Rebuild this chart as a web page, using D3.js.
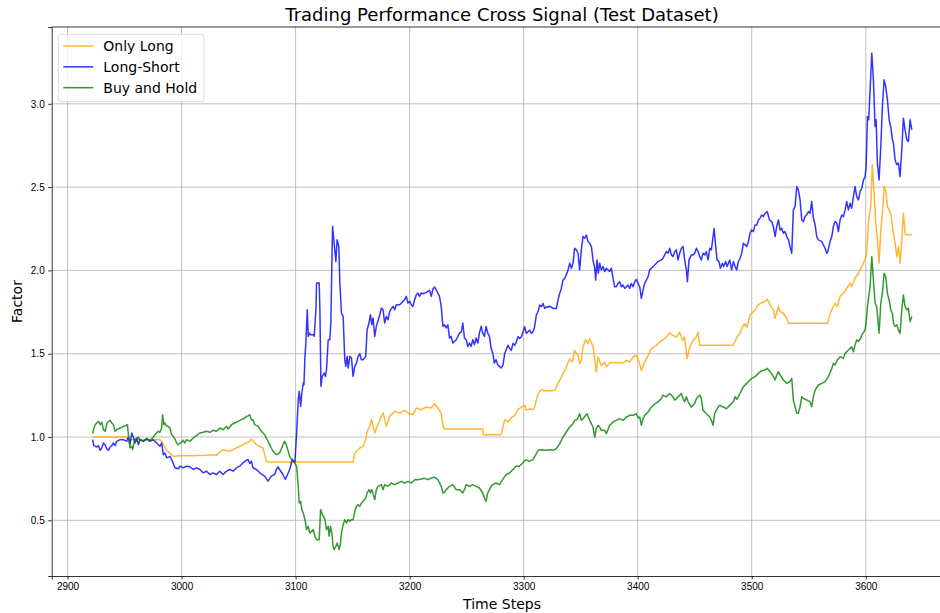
<!DOCTYPE html>
<html lang="en">
<head>
<meta charset="UTF-8">
<title>Trading Performance Cross Signal</title>
<script src="https://d3js.org/d3.v7.min.js"></script>
<style>
  body { margin: 0; background: #fff; }
  svg { display: block; font-family: "DejaVu Sans", sans-serif; }
  .grid line { stroke: #b0b0b0; stroke-width: 0.8; }
  .axis path, .axis line { stroke: #000; stroke-width: 0.8; }
  .axis text { font-size: 10px; fill: #000; }
</style>
</head>
<body>
<svg width="940" height="613"></svg>
<script>
// values: [time step, factor]
var onlyLong = [[2922,1.0],[2952,1.0],[2953.4,0.984],[2981,0.984],[2982.5,0.974],[2986.9,0.92],[2992.7,0.885],[3000,0.888],[3010,0.888],[3020,0.89],[3027.7,0.894],[3030.6,0.89],[3033.5,0.91],[3036.4,0.924],[3042.3,0.914],[3048.1,0.934],[3053.9,0.954],[3059.8,0.974],[3061.2,0.988],[3065.6,0.954],[3071.4,0.934],[3074.3,0.855],[3076,0.85],[3150.4,0.85],[3151.9,0.904],[3156.3,0.934],[3159.2,0.944],[3161.5,0.984],[3162.7,1.034],[3165,1.064],[3166.5,1.104],[3169.4,1.024],[3173.8,1.104],[3176.7,1.144],[3179.6,1.064],[3182.5,1.124],[3186.9,1.154],[3191.3,1.144],[3195.6,1.16],[3198.5,1.144],[3202.9,1.134],[3205.8,1.174],[3210.2,1.164],[3214.6,1.18],[3218.9,1.174],[3221.9,1.2],[3224.8,1.174],[3227.7,1.144],[3229.2,1.064],[3230.6,1.048],[3264.1,1.048],[3264.7,1.014],[3280.2,1.014],[3281.9,1.06],[3283.3,1.104],[3286.3,1.09],[3289.2,1.116],[3292.1,1.13],[3295,1.164],[3298,1.18],[3300.9,1.19],[3302.3,1.16],[3305.3,1.17],[3308.2,1.164],[3309.6,1.18],[3312.6,1.26],[3315.5,1.285],[3318.4,1.277],[3322.8,1.277],[3327.2,1.28],[3330.1,1.32],[3334.5,1.38],[3337.4,1.42],[3340.4,1.47],[3342.7,1.45],[3344.7,1.52],[3347.7,1.49],[3349.1,1.44],[3350.6,1.46],[3352,1.54],[3354.4,1.585],[3356.4,1.56],[3357.9,1.59],[3360.8,1.545],[3362.3,1.46],[3363.7,1.39],[3365.2,1.48],[3368.1,1.43],[3371.1,1.45],[3372.5,1.42],[3375.4,1.445],[3381.3,1.445],[3387.1,1.445],[3390.1,1.46],[3393,1.45],[3395.9,1.48],[3398.8,1.49],[3401.2,1.45],[3403.2,1.40],[3406.1,1.45],[3409.1,1.49],[3412,1.53],[3416.4,1.55],[3419.3,1.57],[3422.2,1.585],[3425.1,1.60],[3428.1,1.625],[3431,1.61],[3433.9,1.60],[3436.8,1.63],[3439.2,1.58],[3441.2,1.60],[3443.3,1.47],[3445.6,1.54],[3448.5,1.58],[3451.5,1.60],[3452.9,1.63],[3454.4,1.55],[3483.6,1.55],[3485.1,1.57],[3487.1,1.60],[3489.5,1.62],[3491.8,1.66],[3493.9,1.68],[3495.9,1.66],[3498.5,1.733],[3500,1.743],[3502.9,1.763],[3505.8,1.793],[3508.8,1.807],[3511.7,1.813],[3513.7,1.827],[3516.1,1.793],[3519,1.763],[3520.5,1.713],[3523.4,1.783],[3524.9,1.753],[3527.8,1.743],[3530.7,1.713],[3532.2,1.683],[3566.7,1.683],[3567.8,1.723],[3570.2,1.763],[3573.1,1.803],[3575.1,1.783],[3577.5,1.843],[3580.4,1.863],[3583.3,1.893],[3586.3,1.923],[3587.7,1.903],[3590.6,1.953],[3593.6,1.983],[3596.5,2.023],[3598.5,2.053],[3600.3,2.083],[3601.5,2.183],[3602.6,2.303],[3604.4,2.383],[3605.8,2.634],[3607.3,2.463],[3608.8,2.283],[3610.2,2.183],[3611.7,2.043],[3613.2,2.243],[3614.6,2.343],[3616.1,2.503],[3617.5,2.483],[3619,2.383],[3621.9,2.343],[3624.3,2.223],[3625.7,2.163],[3627.2,2.083],[3628.7,2.143],[3630.1,2.043],[3631.6,2.183],[3633,2.343],[3634.5,2.223],[3636,2.213],[3640.4,2.213]];

var longShort = [[2922,0.984],[2923,0.948],[2925.7,0.94],[2927.1,0.948],[2928.6,0.92],[2930,0.934],[2931.5,0.964],[2932.9,0.954],[2934.4,0.928],[2935.9,0.92],[2937.3,0.94],[2938.8,0.948],[2940.2,0.964],[2941.7,0.948],[2943.1,0.974],[2946.1,0.984],[2949,0.984],[2951.9,0.974],[2953.4,1.0],[2954.8,0.954],[2956.3,1.024],[2957.7,1.0],[2959.2,0.964],[2960.6,0.994],[2962.1,0.954],[2963.6,0.984],[2966.5,0.974],[2969.4,0.988],[2972.3,0.974],[2975.2,0.984],[2978.1,0.964],[2981,0.944],[2982.5,0.964],[2984,0.894],[2985.4,0.904],[2986.9,0.875],[2989.8,0.884],[2991.3,0.865],[2994.2,0.815],[2997.1,0.809],[2998.5,0.825],[3001.5,0.815],[3004.4,0.825],[3007.3,0.821],[3010.2,0.805],[3013.1,0.815],[3016,0.805],[3018.9,0.785],[3021.9,0.795],[3024.8,0.775],[3027.7,0.785],[3030.6,0.775],[3033.5,0.795],[3036.4,0.775],[3039.4,0.795],[3042.3,0.805],[3045.2,0.795],[3048.1,0.815],[3051,0.825],[3053.9,0.845],[3056.9,0.861],[3058.3,0.865],[3059.8,0.841],[3061.2,0.855],[3062.7,0.815],[3065.6,0.805],[3068.5,0.785],[3072.9,0.765],[3075.8,0.735],[3078.7,0.765],[3081.6,0.775],[3083.1,0.805],[3084.5,0.821],[3086,0.805],[3088.9,0.775],[3091,0.745],[3094.8,0.805],[3097.1,0.865],[3099.4,0.85],[3100.9,1.024],[3102.3,1.224],[3103.2,1.274],[3104.4,1.184],[3105.5,1.264],[3106.7,1.324],[3107.3,1.314],[3108.2,1.484],[3109,1.564],[3110.2,1.764],[3111.1,1.604],[3112,1.624],[3113.1,1.614],[3115.5,1.614],[3116.3,1.604],[3117.8,1.764],[3118.4,1.924],[3120.7,1.924],[3121.3,1.764],[3122.2,1.304],[3123.3,1.364],[3125.1,1.384],[3126.2,1.364],[3127.1,1.404],[3128.6,1.584],[3130,1.584],[3130.9,1.684],[3132.4,2.264],[3133.8,2.164],[3135.3,2.054],[3136.4,2.184],[3137.9,2.144],[3138.8,1.924],[3140.2,1.744],[3141.7,1.724],[3143.1,1.464],[3144,1.424],[3145.2,1.484],[3146.1,1.414],[3147.5,1.484],[3149,1.474],[3150.4,1.364],[3151.9,1.424],[3153.4,1.444],[3154.8,1.484],[3156.3,1.5],[3157.7,1.464],[3159.2,1.464],[3161.5,1.484],[3162.7,1.644],[3164.4,1.684],[3165.6,1.734],[3166.8,1.674],[3167.9,1.714],[3169.4,1.604],[3170.8,1.664],[3173.8,1.734],[3175.2,1.774],[3176.7,1.764],[3178.1,1.684],[3179.6,1.724],[3181,1.704],[3182.5,1.754],[3185.4,1.784],[3186.9,1.764],[3188.3,1.794],[3191.3,1.794],[3194.2,1.814],[3195.6,1.824],[3197.1,1.844],[3198.5,1.804],[3200,1.814],[3201.5,1.794],[3202.9,1.784],[3204.4,1.824],[3205.8,1.854],[3207.3,1.864],[3208.7,1.844],[3210.2,1.864],[3211.7,1.86],[3214.6,1.868],[3217.5,1.88],[3219,1.844],[3220.4,1.888],[3221.9,1.9],[3223.3,1.884],[3226.2,1.844],[3227.7,1.784],[3229.2,1.664],[3230.6,1.674],[3232.1,1.654],[3233.5,1.674],[3235,1.594],[3236.4,1.604],[3237.9,1.564],[3240.8,1.584],[3243.7,1.624],[3245.2,1.628],[3246.6,1.684],[3248.1,1.594],[3249.6,1.584],[3251,1.544],[3252.5,1.564],[3253.9,1.544],[3255.4,1.584],[3256.9,1.554],[3258.3,1.594],[3259.8,1.564],[3261.2,1.624],[3262.7,1.664],[3264.1,1.624],[3265.6,1.604],[3267,1.664],[3268.5,1.624],[3270,1.604],[3271.4,1.534],[3272.9,1.504],[3274.3,1.444],[3275.8,1.464],[3277.3,1.434],[3278.7,1.424],[3280.2,1.414],[3281.9,1.431],[3283.3,1.501],[3286.3,1.551],[3287.7,1.531],[3289.2,1.521],[3290.6,1.561],[3292.1,1.551],[3293.6,1.571],[3295,1.602],[3296.5,1.592],[3298,1.602],[3299.4,1.632],[3300.9,1.662],[3302.3,1.622],[3303.8,1.632],[3305.3,1.642],[3306.7,1.622],[3308.2,1.632],[3309.6,1.662],[3311.1,1.732],[3312.6,1.752],[3314,1.792],[3315.5,1.782],[3317,1.802],[3318.4,1.772],[3319.9,1.782],[3321.3,1.778],[3322.8,1.786],[3325.7,1.772],[3328.7,1.772],[3330.1,1.822],[3331.6,1.862],[3333,1.892],[3334.5,1.942],[3336,1.952],[3337.4,1.973],[3338.9,2.003],[3340.4,2.043],[3341.8,2.013],[3343.3,2.043],[3344.7,2.133],[3346.2,2.123],[3347.7,2.103],[3349.1,2.003],[3350.6,2.123],[3352,2.203],[3353.5,2.193],[3355,2.213],[3356.4,2.173],[3357.9,2.163],[3359.4,2.143],[3360.8,2.063],[3362.3,2.013],[3363.2,1.942],[3364.3,2.063],[3365.5,1.983],[3366.7,2.043],[3368.1,2.003],[3369.6,2.023],[3371.1,1.993],[3372.5,2.013],[3375.4,1.993],[3376.9,2.013],[3378.4,1.952],[3379.8,1.902],[3381.3,1.902],[3382.7,1.922],[3384.2,1.932],[3385.7,1.902],[3387.1,1.912],[3388.6,1.892],[3390.1,1.902],[3391.5,1.912],[3393,1.892],[3394.4,1.922],[3395.9,1.902],[3397.4,1.932],[3398.8,1.946],[3400.3,1.922],[3401.8,1.902],[3403.2,1.832],[3404.7,1.882],[3406.1,1.922],[3409.1,1.962],[3410.5,2.003],[3412,2.013],[3414.9,2.033],[3417.8,2.053],[3420.8,2.063],[3422.2,2.073],[3425.1,2.113],[3426.6,2.103],[3428.1,2.133],[3429.5,2.093],[3431,2.083],[3432.5,2.113],[3433.9,2.123],[3435.4,2.063],[3436.8,2.103],[3438.3,2.133],[3439.8,2.143],[3441.2,2.063],[3442.7,2.003],[3443.6,1.932],[3445,2.063],[3447.1,2.093],[3448.5,2.093],[3450,2.103],[3451.5,2.133],[3452.9,2.113],[3454.4,2.083],[3455.8,2.063],[3457.3,2.103],[3458.8,2.093],[3460.2,2.113],[3461.7,2.063],[3463.2,2.133],[3464.6,2.123],[3466.1,2.203],[3467,2.253],[3468.4,2.143],[3469.6,2.063],[3471.3,2.053],[3472.5,2.013],[3474.3,2.043],[3475.4,2.023],[3477.2,2.053],[3478.4,2.023],[3480.7,2.063],[3482.4,2.003],[3483.9,2.053],[3485.4,2.023],[3486.8,2.003],[3488.3,2.053],[3489.8,2.073],[3491.2,2.103],[3492.7,2.163],[3494.2,2.153],[3495.6,2.143],[3497.1,2.173],[3498.5,2.223],[3500,2.243],[3501.5,2.233],[3502.9,2.273],[3504.4,2.273],[3505.8,2.303],[3507.3,2.313],[3508.8,2.333],[3510.2,2.323],[3511.7,2.343],[3513.7,2.353],[3515.5,2.303],[3517.5,2.293],[3519,2.263],[3520.5,2.203],[3521.9,2.263],[3523.4,2.303],[3524.9,2.243],[3526.3,2.253],[3527.8,2.223],[3529.2,2.233],[3530.7,2.203],[3532.2,2.183],[3533.6,2.143],[3535.1,2.103],[3536.5,2.363],[3538,2.383],[3539.5,2.503],[3540.9,2.483],[3542.4,2.423],[3543.9,2.303],[3545.3,2.293],[3546.8,2.323],[3548.2,2.333],[3549.7,2.353],[3551.2,2.343],[3552.6,2.413],[3554.1,2.313],[3555.6,2.273],[3557,2.203],[3558.5,2.183],[3561.4,2.173],[3564.3,2.133],[3565.8,2.103],[3566.7,2.113],[3568.7,2.173],[3570.2,2.203],[3571.6,2.263],[3573.1,2.293],[3574.6,2.283],[3576,2.233],[3577.5,2.303],[3579,2.333],[3580.4,2.323],[3581.9,2.363],[3583.3,2.413],[3584.8,2.363],[3586.3,2.403],[3587.7,2.373],[3589.2,2.443],[3590.6,2.503],[3592.1,2.443],[3593.6,2.423],[3595,2.473],[3596.5,2.493],[3598,2.543],[3599.4,2.563],[3600.3,2.623],[3601.5,2.924],[3602.6,2.904],[3603.8,3.084],[3605.3,3.304],[3606.7,3.144],[3608.2,2.864],[3609.1,2.904],[3610.2,2.644],[3611.7,2.543],[3613.2,2.744],[3614.6,2.984],[3616.1,3.144],[3617.5,3.104],[3619,3.024],[3620.5,2.904],[3621.9,2.864],[3623.4,2.784],[3624.3,2.764],[3625.7,2.664],[3627.2,2.634],[3628.7,2.644],[3630.1,2.563],[3631.6,2.724],[3633,2.914],[3634.5,2.844],[3636,2.784],[3637.4,2.774],[3638.9,2.904],[3640.4,2.844]];

var buyHold = [[2922,1.02],[2922.7,1.044],[2924.2,1.074],[2925.7,1.084],[2927.1,1.094],[2928.6,1.074],[2930,1.088],[2931.5,1.044],[2932.9,1.034],[2934.4,1.08],[2935.9,1.094],[2937.3,1.1],[2938.8,1.084],[2940.2,1.074],[2941.7,1.034],[2943.1,1.044],[2946.1,1.054],[2949,1.064],[2951.3,1.068],[2952.5,1.074],[2954,0.974],[2954.8,0.934],[2956.3,0.944],[2957.1,0.924],[2958.3,0.964],[2959.5,0.988],[2960.6,0.974],[2962.1,1.0],[2963.6,0.984],[2966.5,0.974],[2969.4,0.992],[2972.3,0.978],[2975.2,1.0],[2976.7,1.014],[2978.1,1.024],[2979.6,1.034],[2981,1.028],[2982.5,1.054],[2983.4,1.133],[2984.5,1.074],[2985.4,1.084],[2986.9,1.064],[2988.3,1.064],[2989.8,1.054],[2991.3,1.014],[2992.7,1.004],[2994.2,0.988],[2995.6,0.964],[2997.1,0.954],[2998.5,0.964],[3000,0.968],[3001.5,0.98],[3002.9,0.964],[3004.4,0.984],[3007.3,0.974],[3010.2,0.994],[3013.1,1.008],[3016,1.024],[3018.9,1.028],[3021.9,1.034],[3024.8,1.028],[3027.7,1.04],[3030.6,1.034],[3033.5,1.054],[3036.4,1.044],[3039.4,1.064],[3040.8,1.048],[3043.7,1.074],[3046.6,1.084],[3049.6,1.094],[3052.5,1.104],[3055.4,1.114],[3056.9,1.124],[3058.3,1.127],[3059.8,1.133],[3061.2,1.104],[3062.7,1.104],[3064.1,1.074],[3067.1,1.064],[3070,1.034],[3072.9,1.014],[3075.8,0.974],[3077.3,0.954],[3078.7,0.934],[3080.2,0.914],[3083.1,0.894],[3086,0.904],[3088.9,0.954],[3090.4,0.974],[3091.8,0.954],[3094.8,0.884],[3097.7,0.855],[3099.1,0.845],[3100.9,0.824],[3102.3,0.704],[3103.2,0.604],[3104.4,0.614],[3105.5,0.564],[3106.7,0.544],[3108.2,0.504],[3109.6,0.444],[3111.1,0.464],[3112.5,0.424],[3115.5,0.444],[3116.9,0.404],[3118.4,0.384],[3120.7,0.384],[3121.9,0.564],[3123.6,0.534],[3125.7,0.504],[3127.1,0.444],[3128.6,0.464],[3129.4,0.404],[3130.6,0.464],[3131.8,0.424],[3132.9,0.344],[3133.8,0.324],[3135.3,0.344],[3136.4,0.364],[3138.2,0.324],[3139.4,0.364],[3140.2,0.424],[3141.7,0.474],[3143.1,0.504],[3144.6,0.484],[3146.1,0.504],[3147.5,0.494],[3149,0.504],[3150.4,0.504],[3151.9,0.554],[3153.4,0.584],[3154.8,0.594],[3156.3,0.584],[3157.7,0.604],[3159.2,0.614],[3161.5,0.634],[3162.7,0.664],[3164.4,0.684],[3165.6,0.664],[3166.8,0.684],[3169.4,0.624],[3170.8,0.684],[3172.3,0.704],[3175.2,0.714],[3176.7,0.684],[3178.1,0.714],[3181,0.704],[3184,0.724],[3186.9,0.714],[3189.8,0.724],[3192.7,0.734],[3195.6,0.724],[3198.5,0.734],[3201.5,0.724],[3204.4,0.744],[3207.3,0.744],[3210.2,0.748],[3213.1,0.752],[3216,0.744],[3219,0.754],[3221.9,0.758],[3224.8,0.744],[3227.7,0.704],[3229.2,0.664],[3230.6,0.668],[3232.1,0.684],[3235,0.704],[3237.9,0.714],[3240.8,0.684],[3243.7,0.684],[3246.6,0.664],[3248.1,0.684],[3249.6,0.714],[3252.5,0.704],[3255.4,0.714],[3258.3,0.704],[3261.2,0.694],[3264.1,0.664],[3265.6,0.634],[3267,0.614],[3268.5,0.664],[3270,0.684],[3271.4,0.704],[3272.9,0.714],[3275.8,0.724],[3278.7,0.714],[3281.6,0.744],[3284.5,0.774],[3287.5,0.784],[3290.4,0.804],[3293.3,0.824],[3296.2,0.824],[3299.1,0.844],[3302,0.864],[3305,0.854],[3308.2,0.864],[3309.6,0.88],[3312.6,0.92],[3315.5,0.924],[3319.9,0.92],[3322.8,0.924],[3325.7,0.92],[3328.7,0.93],[3331.6,0.96],[3334.5,1.0],[3337.4,1.03],[3340.4,1.06],[3343.3,1.08],[3344.7,1.1],[3346.8,1.104],[3349.1,1.14],[3350.6,1.1],[3352,1.11],[3354.4,1.13],[3355.6,1.14],[3357.9,1.1],[3360.8,1.06],[3362.3,1.0],[3363.7,1.05],[3365.2,1.07],[3366.7,1.06],[3368.1,1.04],[3371.1,1.04],[3372.5,1.02],[3375.4,1.07],[3378.4,1.09],[3381.3,1.1],[3384.2,1.11],[3387.1,1.1],[3390.1,1.12],[3393,1.13],[3395.9,1.13],[3398.8,1.14],[3400.3,1.116],[3401.8,1.12],[3403.2,1.07],[3404.7,1.11],[3406.1,1.13],[3409.1,1.15],[3412,1.18],[3414.9,1.197],[3417.8,1.211],[3420.8,1.231],[3422.2,1.251],[3425.1,1.241],[3428.1,1.261],[3431,1.241],[3432.5,1.221],[3435.4,1.241],[3438.3,1.261],[3439.8,1.231],[3441.2,1.211],[3442.7,1.241],[3444.2,1.211],[3447.1,1.18],[3450,1.201],[3451.5,1.231],[3452.9,1.241],[3454.4,1.251],[3455.8,1.231],[3457.3,1.16],[3458.8,1.15],[3460.2,1.14],[3463.2,1.12],[3464.6,1.1],[3466.1,1.07],[3467.5,1.14],[3469,1.16],[3470.5,1.18],[3471.9,1.19],[3474.9,1.18],[3477.8,1.17],[3480.7,1.19],[3483.9,1.212],[3485.4,1.242],[3486.8,1.226],[3489.8,1.262],[3492.7,1.302],[3495.6,1.322],[3498.5,1.342],[3500,1.352],[3502.9,1.362],[3505.8,1.382],[3508.8,1.398],[3511.7,1.402],[3513.7,1.412],[3516.1,1.392],[3519,1.362],[3520.5,1.342],[3521.9,1.372],[3523.4,1.392],[3524.9,1.372],[3527.8,1.342],[3530.7,1.322],[3533.6,1.332],[3535.1,1.352],[3536.5,1.222],[3538,1.182],[3539.5,1.142],[3540.9,1.142],[3542.4,1.182],[3543.9,1.242],[3545.3,1.232],[3548.2,1.222],[3551.2,1.212],[3552.6,1.182],[3554.1,1.242],[3555.6,1.282],[3558.5,1.312],[3561.4,1.322],[3564.3,1.332],[3567.3,1.362],[3570.2,1.412],[3571.6,1.442],[3573.1,1.432],[3575.1,1.462],[3577.5,1.482],[3580.4,1.472],[3581.9,1.502],[3584.8,1.522],[3587.7,1.542],[3589.2,1.512],[3590.6,1.553],[3592.1,1.583],[3593.6,1.573],[3595.6,1.593],[3596.5,1.613],[3598,1.627],[3599.4,1.643],[3600.3,1.683],[3601.5,1.783],[3602.6,1.843],[3603.8,1.903],[3605.3,2.083],[3606.7,1.943],[3608.2,1.803],[3609.6,1.783],[3611.7,1.623],[3613.2,1.803],[3614.6,1.863],[3616.1,1.983],[3617.5,1.963],[3619,1.863],[3620.5,1.823],[3621.9,1.763],[3623.4,1.743],[3624.3,1.683],[3625.7,1.663],[3627.2,1.673],[3628.7,1.643],[3630.1,1.623],[3631.6,1.763],[3633,1.853],[3634.5,1.783],[3636,1.763],[3637.4,1.773],[3638.9,1.693],[3640.4,1.723]];

var xTicks = [2900, 3000, 3100, 3200, 3300, 3400, 3500, 3600];
var yTicks = [0.5, 1.0, 1.5, 2.0, 2.5, 3.0];
var seriesNames = ["Only Long", "Long-Short", "Buy and Hold"];
var seriesColors = ["orange", "blue", "green"];

var svg = d3.select("svg");
var plotLeft = 51.7, plotRight = 952.3, plotTop = 27, plotBottom = 576;

// matplotlib-like autoscale: 5% margin around the data
var x = d3.scaleLinear().domain([2886.1, 3675.9]).range([plotLeft, plotRight]);
var y = d3.scaleLinear().domain([0.1657, 3.461]).range([plotBottom, plotTop]);

// grid
var grid = svg.append("g").attr("class", "grid");
grid.selectAll(".gx").data(xTicks).enter().append("line")
    .attr("x1", d => x(d)).attr("x2", d => x(d))
    .attr("y1", plotTop).attr("y2", plotBottom);
grid.selectAll(".gy").data(yTicks).enter().append("line")
    .attr("x1", plotLeft).attr("x2", plotRight)
    .attr("y1", d => y(d)).attr("y2", d => y(d));

// lines
var line = d3.line().x(d => x(d[0])).y(d => y(d[1]));
[onlyLong, longShort, buyHold].forEach(function(data, i) {
    svg.append("path")
       .datum(data)
       .attr("fill", "none")
       .attr("stroke", seriesColors[i])
       .attr("stroke-opacity", 0.8)
       .attr("stroke-width", 1.5)
       .attr("stroke-linejoin", "round")
       .attr("d", line);
});

// axes
svg.append("g")
   .attr("class", "axis")
   .attr("transform", "translate(0," + plotBottom + ")")
   .call(d3.axisBottom(x).tickValues(xTicks).tickFormat(d3.format("d")).tickSizeOuter(0).tickSize(3.5).tickPadding(3.5));
svg.append("g")
   .attr("class", "axis")
   .attr("transform", "translate(" + plotLeft + ",0)")
   .call(d3.axisLeft(y).tickValues(yTicks).tickFormat(d3.format(".1f")).tickSizeOuter(0).tickSize(3.5).tickPadding(3.5));
// top spine
svg.append("line")
   .attr("x1", plotLeft).attr("x2", plotRight).attr("y1", plotTop).attr("y2", plotTop)
   .attr("stroke", "#000").attr("stroke-width", 0.8);

// labels
svg.append("text")
   .attr("x", (plotLeft + plotRight) / 2).attr("y", 21)
   .attr("text-anchor", "middle").attr("font-size", 18)
   .text("Trading Performance Cross Signal (Test Dataset)");
svg.append("text")
   .attr("x", (plotLeft + plotRight) / 2).attr("y", 609)
   .attr("text-anchor", "middle").attr("font-size", 14)
   .text("Time Steps");
svg.append("text")
   .attr("transform", "translate(22," + (plotTop + plotBottom) / 2 + ") rotate(-90)")
   .attr("text-anchor", "middle").attr("font-size", 14)
   .text("Factor");

// legend
var legend = svg.append("g");
legend.append("rect")
   .attr("x", 58.3).attr("y", 34.3).attr("width", 145.7).attr("height", 67.4)
   .attr("rx", 3).attr("fill", "#fff").attr("fill-opacity", 0.8)
   .attr("stroke", "#d0d0d0").attr("stroke-width", 0.8);
seriesNames.forEach(function(name, i) {
    var ly = 46 + i * 20.85;
    legend.append("line")
       .attr("x1", 63.3).attr("x2", 93.3).attr("y1", ly).attr("y2", ly)
       .attr("stroke", seriesColors[i]).attr("stroke-opacity", 0.8).attr("stroke-width", 1.5);
    legend.append("text")
       .attr("x", 103.3).attr("y", ly + 5).attr("font-size", 14)
       .text(name);
});
</script>
</body>
</html>
